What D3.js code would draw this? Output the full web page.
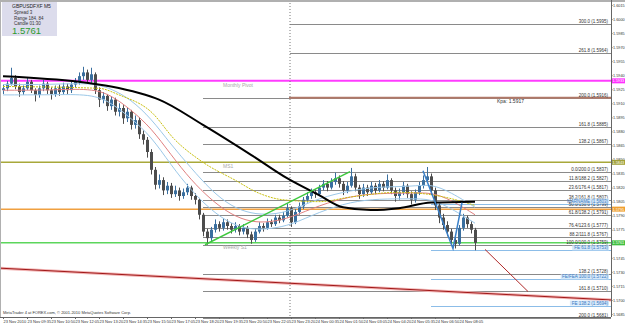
<!DOCTYPE html>
<html>
<head>
<meta charset="utf-8">
<script src="https://cdnjs.cloudflare.com/ajax/libs/d3/7.8.5/d3.min.js"></script>
<style>
  body { margin: 0; background: #fff; }
  text { font-family: "Liberation Sans", Arial, sans-serif; }
</style>
</head>
<body>
<div id="chart"></div>
<script>
// candle data, GBPUSD M5
const firstOpen = 1.5924;
const closes = [
  1.5926, 1.5931, 1.5937, 1.5928, 1.5922, 1.5926, 1.5933, 1.5924, 1.5919, 1.5926,
  1.5931, 1.5924, 1.5920, 1.5926, 1.5922, 1.5928, 1.5924, 1.5930, 1.5933, 1.5939,
  1.5943, 1.5935, 1.5941, 1.5924, 1.5914, 1.5918, 1.5907, 1.5914, 1.5901, 1.5905,
  1.5894, 1.5901, 1.5887, 1.5892, 1.5877, 1.5871, 1.5858, 1.5839, 1.5823, 1.5828,
  1.5817, 1.5822, 1.5813, 1.5817, 1.5811, 1.5815, 1.5820, 1.5811, 1.5807, 1.5791,
  1.5773, 1.5766, 1.5775, 1.5781, 1.5777, 1.5783, 1.5779, 1.5775, 1.5779, 1.5773,
  1.5777, 1.5770, 1.5764, 1.5773, 1.5779, 1.5777, 1.5783, 1.5781, 1.5788, 1.5785,
  1.5790, 1.5798, 1.5783, 1.5794, 1.5800, 1.5807, 1.5811, 1.5815, 1.5813, 1.5820,
  1.5824, 1.5820, 1.5826, 1.5830, 1.5824, 1.5817, 1.5822, 1.5832, 1.5820, 1.5813,
  1.5820, 1.5815, 1.5822, 1.5817, 1.5824, 1.5820, 1.5828, 1.5817, 1.5811, 1.5815,
  1.5822, 1.5813, 1.5807, 1.5815, 1.5822, 1.5828, 1.5832, 1.5817, 1.5801, 1.5788,
  1.5780, 1.5773, 1.5764, 1.5760, 1.5777, 1.5788, 1.5781, 1.5775, 1.5761
];
const highs = [
  1.5930, 1.5934, 1.5948, 1.5940, 1.5931, 1.5929, 1.5937, 1.5935, 1.5926, 1.5929,
  1.5935, 1.5933, 1.5927, 1.5929, 1.5930, 1.5932, 1.5931, 1.5933, 1.5937, 1.5943,
  1.5949, 1.5946, 1.5948, 1.5943, 1.5927, 1.5922, 1.5920, 1.5917, 1.5916, 1.5910,
  1.5908, 1.5905, 1.5903, 1.5897, 1.5895, 1.5881, 1.5874, 1.5861, 1.5842, 1.5834,
  1.5831, 1.5826, 1.5825, 1.5822, 1.5820, 1.5819, 1.5824, 1.5822, 1.5814, 1.5809,
  1.5793, 1.5776, 1.5778, 1.5786, 1.5784, 1.5787, 1.5786, 1.5782, 1.5783, 1.5781,
  1.5781, 1.5779, 1.5773, 1.5776, 1.5783, 1.5782, 1.5787, 1.5786, 1.5791, 1.5791,
  1.5794, 1.5803, 1.5800, 1.5797, 1.5804, 1.5810, 1.5815, 1.5819, 1.5818, 1.5823,
  1.5828, 1.5827, 1.5830, 1.5836, 1.5833, 1.5827, 1.5826, 1.5841, 1.5835, 1.5823,
  1.5824, 1.5823, 1.5826, 1.5825, 1.5828, 1.5827, 1.5834, 1.5830, 1.5820, 1.5819,
  1.5826, 1.5824, 1.5816, 1.5818, 1.5826, 1.5833, 1.5842, 1.5835, 1.5820, 1.5804,
  1.5792, 1.5784, 1.5776, 1.5768, 1.5780, 1.5792, 1.5790, 1.5784, 1.5777
];
const lows = [
  1.5920, 1.5923, 1.5929, 1.5925, 1.5917, 1.5919, 1.5924, 1.5921, 1.5912, 1.5916,
  1.5923, 1.5920, 1.5914, 1.5917, 1.5918, 1.5919, 1.5920, 1.5921, 1.5927, 1.5930,
  1.5935, 1.5931, 1.5932, 1.5920, 1.5906, 1.5910, 1.5902, 1.5903, 1.5897, 1.5896,
  1.5888, 1.5890, 1.5882, 1.5883, 1.5872, 1.5866, 1.5852, 1.5834, 1.5818, 1.5819,
  1.5812, 1.5813, 1.5809, 1.5810, 1.5806, 1.5808, 1.5812, 1.5807, 1.5802, 1.5786,
  1.5768, 1.5759, 1.5763, 1.5772, 1.5773, 1.5774, 1.5775, 1.5771, 1.5772, 1.5769,
  1.5770, 1.5766, 1.5760, 1.5762, 1.5771, 1.5773, 1.5775, 1.5778, 1.5779, 1.5782,
  1.5783, 1.5788, 1.5778, 1.5781, 1.5791, 1.5797, 1.5804, 1.5808, 1.5809, 1.5811,
  1.5817, 1.5816, 1.5818, 1.5823, 1.5820, 1.5812, 1.5814, 1.5820, 1.5816, 1.5808,
  1.5810, 1.5811, 1.5813, 1.5813, 1.5815, 1.5816, 1.5818, 1.5813, 1.5805, 1.5807,
  1.5812, 1.5809, 1.5802, 1.5804, 1.5812, 1.5819, 1.5825, 1.5812, 1.5796, 1.5782,
  1.5775, 1.5768, 1.5759, 1.5755, 1.5758, 1.5774, 1.5777, 1.5771, 1.5753
];

// moving averages (bar index / price)
const slowMaIdx = [0, 19, 27, 34, 39, 50, 62, 71, 79, 85, 92, 99, 107, 118];
const slowMaPrice = [1.5939, 1.5933, 1.5928, 1.5921, 1.5914, 1.5887, 1.5855, 1.5830, 1.5812, 1.5799, 1.5796, 1.5798, 1.5804, 1.5805];
const yellowMaIdx = [0, 24, 29, 37, 43, 50, 58, 64, 70, 79, 87, 99, 109, 118];
const yellowMaPrice = [1.5928, 1.5926, 1.5919, 1.5901, 1.5871, 1.5847, 1.5828, 1.5814, 1.5807, 1.5805, 1.5810, 1.5815, 1.5811, 1.5801];
const bandIdx = [0, 12, 22, 27, 32, 37, 42, 47, 52, 57, 62, 67, 72, 79, 87, 94, 102, 107, 112, 118];
const bandMid = [1.5924, 1.5924, 1.5926, 1.5919, 1.5903, 1.5884, 1.5855, 1.5828, 1.5807, 1.5791, 1.5783, 1.5783, 1.5788, 1.5801, 1.5811, 1.5814, 1.5814, 1.5815, 1.5807, 1.5791];
const bandUpper = [1.5930, 1.5930, 1.5932, 1.5926, 1.5914, 1.5894, 1.5866, 1.5841, 1.5817, 1.5800, 1.5792, 1.5791, 1.5795, 1.5809, 1.5817, 1.5821, 1.5821, 1.5824, 1.5815, 1.5799];
const bandLower = [1.5919, 1.5919, 1.5920, 1.5911, 1.5894, 1.5875, 1.5844, 1.5817, 1.5796, 1.5781, 1.5775, 1.5776, 1.5780, 1.5794, 1.5805, 1.5808, 1.5808, 1.5808, 1.5798, 1.5782];

// full width levels
const levelPrices = [1.5934, 1.5847, 1.5797, 1.5761];
const levelNames = ['Monthly Pivot', 'MS1', '', 'Weekly S1'];
const levelTags = ['1.5933', '1.5843', '1.5795', '1.5761'];

// fibo levels (first bar index each line starts at)
const fibPrices = [1.5995, 1.5964, 1.5916, 1.5885, 1.5867, 1.5837, 1.5827, 1.5817, 1.5807, 1.5799, 1.5791, 1.5777, 1.5767, 1.5759, 1.5728, 1.5710, 1.5681];
const fibStart = [71.75, 71.75, 50, 50, 50, 50, 50, 50, 50, 50, 50, 50, 50, 50, 50, 50, 50];
const fibLabels = ['300.0 (1.5995)', '261.8 (1.5964)', '200.0 (1.5916)', '161.8 (1.5885)', '138.2 (1.5867)',
  '0.0/200.0 (1.5837)', '11.8/188.2 (1.5827)', '23.6/176.4 (1.5817)', '38.2/161.8 (1.5807)', '50.0/150.0 (1.5799)',
  '61.8/138.2 (1.5791)', '76.4/123.6 (1.5777)', '88.2/111.8 (1.5767)', '100.0/100.0 (1.5759)',
  '138.2 (1.5728)', '161.8 (1.5710)', '200.0 (1.5681)'];
const fePrices = [1.5803, 1.5753, 1.5722, 1.5694];
const feLabels = ['MARNAME (1.5803)', 'FE 61.8 (1.5753)', 'FE/FEA 100.0 (1.5722)', 'FE 138.2 (1.5694)'];
const kpaPrice = 1.5916;

// hand drawn lines [bar index, price]
const greenTrend = [[50.5, 1.5759], [86.75, 1.5837]];
const blueZigzag = [[105, 1.5838], [112.5, 1.5755], [114.75, 1.5804]];
const redChannel = [[-1, 1.5734], [152, 1.5700]];
const redShort = [[120.5, 1.5754], [131.25, 1.5709]];
const cursorIdx = 71.75;

// axis labels
const priceTicks = [1.5685, 1.5700, 1.5715, 1.5730, 1.5745, 1.5760, 1.5775, 1.5790, 1.5805, 1.5820, 1.5835, 1.5850,
  1.5865, 1.5880, 1.5895, 1.5910, 1.5925, 1.5940, 1.5955, 1.5970, 1.5985, 1.6000, 1.6015];
const timeIdx = [0, 6, 12, 18, 24, 30, 36, 42, 48, 54, 60, 66, 72, 78, 84, 90, 96, 102, 108, 114];
const timeLabels = ['23 Nov 2010', '23 Nov 09:35', '23 Nov 10:50', '23 Nov 12:05', '23 Nov 13:20', '23 Nov 14:35',
  '23 Nov 15:50', '23 Nov 17:05', '23 Nov 18:20', '23 Nov 19:35', '23 Nov 20:50', '23 Nov 22:05', '23 Nov 23:20',
  '24 Nov 00:35', '24 Nov 01:50', '24 Nov 03:05', '24 Nov 04:20', '24 Nov 05:35', '24 Nov 06:50', '24 Nov 08:05'];

const W = 625, H = 326, plotRight = 611, plotBottom = 317;

const svg = d3.select('#chart')
  .append('svg')
  .attr('width', W)
  .attr('height', H)
  .style('display', 'block');

svg.append('rect').attr('width', W).attr('height', H).attr('fill', '#fff');

// scales
const x = d3.scaleLinear().domain([0, 152]).range([3, plotRight]);
const y = d3.scaleLinear().domain([1.5685, 1.6015]).range([314, 5]);

const plot = svg.append('g');

// fibo lines
const levelColors = ['#ff3cff', '#a8a83a', '#f0a040', '#5cd65c'];
const levelWidths = [2, 1.5, 1.5, 1.5];

plot.selectAll('.fib')
  .data(fibPrices)
  .enter()
  .append('line')
  .attr('x1', (d, i) => x(fibStart[i])).attr('x2', plotRight)
  .attr('y1', d => Math.round(y(d)) + 0.5).attr('y2', d => Math.round(y(d)) + 0.5)
  .attr('stroke', '#8a8a8a').attr('stroke-width', 1);

plot.selectAll('.fe')
  .data(fePrices)
  .enter()
  .append('line')
  .attr('x1', x(107)).attr('x2', plotRight)
  .attr('y1', d => Math.round(y(d)) + 0.5).attr('y2', d => Math.round(y(d)) + 0.5)
  .attr('stroke', '#8cbde8').attr('stroke-width', 1);

// kpa line
plot.append('line')
  .attr('x1', x(71.5)).attr('x2', plotRight)
  .attr('y1', y(kpaPrice)).attr('y2', y(kpaPrice))
  .attr('stroke', '#b07868').attr('stroke-width', 2);

plot.append('text')
  .attr('x', 497).attr('y', y(kpaPrice) + 5)
  .attr('font-size', 5).attr('fill', '#333')
  .text('Kpa:  1.5917');

// full width levels
plot.selectAll('.level')
  .data(levelPrices)
  .enter()
  .append('line')
  .attr('x1', 0).attr('x2', plotRight)
  .attr('y1', d => y(d)).attr('y2', d => y(d))
  .attr('stroke', (d, i) => levelColors[i])
  .attr('stroke-width', (d, i) => levelWidths[i]);

plot.selectAll('.levelName')
  .data(levelPrices)
  .enter()
  .append('text')
  .attr('x', 223).attr('y', d => y(d) + 6)
  .attr('font-size', 5).attr('fill', '#a8a8a8')
  .text((d, i) => levelNames[i]);

// red channel line with soft halo
const line = d3.line().x(d => x(d[0])).y(d => y(d[1]));
plot.append('path').attr('d', line(redChannel)).attr('stroke', '#f2b4b4').attr('stroke-width', 3).attr('fill', 'none');
plot.append('path').attr('d', line(redChannel)).attr('stroke', '#a01818').attr('stroke-width', 1).attr('fill', 'none');
plot.append('path').attr('d', line(redShort)).attr('stroke', '#b02828').attr('stroke-width', 1).attr('fill', 'none');

// cursor line
plot.append('line')
  .attr('x1', x(cursorIdx)).attr('x2', x(cursorIdx))
  .attr('y1', 0).attr('y2', plotBottom)
  .attr('stroke', '#777').attr('stroke-dasharray', '1,2');

// candles
const candles = closes.map((c, i) => ({
  i: i,
  o: i ? closes[i - 1] : firstOpen,
  c: c,
  h: highs[i],
  l: lows[i]
}));
const candleColor = d => d.c >= d.o ? '#3a6f9f' : '#4d4d4d';

plot.selectAll('.wick')
  .data(candles)
  .enter()
  .append('line')
  .attr('x1', d => Math.round(x(d.i)) + 0.5).attr('x2', d => Math.round(x(d.i)) + 0.5)
  .attr('y1', d => y(d.h)).attr('y2', d => y(d.l))
  .attr('stroke', candleColor).attr('stroke-width', 1);

plot.selectAll('.body')
  .data(candles)
  .enter()
  .append('rect')
  .attr('x', d => Math.round(x(d.i)) - 1)
  .attr('width', 3)
  .attr('y', d => y(Math.max(d.o, d.c)))
  .attr('height', d => Math.max(1, Math.abs(y(d.o) - y(d.c))))
  .attr('fill', candleColor);

// moving averages
const maLine = curve => d3.line().x(d => x(d[0])).y(d => y(d[1])).curve(curve);
const zipPts = (idx, vals) => idx.map((d, i) => [d, vals[i]]);

plot.append('path').attr('d', maLine(d3.curveBasis)(zipPts(bandIdx, bandUpper)))
  .attr('fill', 'none').attr('stroke', '#9cc8e8').attr('stroke-width', 1);
plot.append('path').attr('d', maLine(d3.curveBasis)(zipPts(bandIdx, bandLower)))
  .attr('fill', 'none').attr('stroke', '#9cc8e8').attr('stroke-width', 1);
plot.append('path').attr('d', maLine(d3.curveBasis)(zipPts(bandIdx, bandMid)))
  .attr('fill', 'none').attr('stroke', '#e08080').attr('stroke-width', 1);
plot.append('path').attr('d', maLine(d3.curveMonotoneX)(zipPts(yellowMaIdx, yellowMaPrice)))
  .attr('fill', 'none').attr('stroke', '#c8c010').attr('stroke-width', 1).attr('stroke-dasharray', '2,1');
plot.append('path').attr('d', maLine(d3.curveMonotoneX)(zipPts(slowMaIdx, slowMaPrice)))
  .attr('fill', 'none').attr('stroke', '#000').attr('stroke-width', 2);

// trend lines
plot.append('path').attr('d', line(greenTrend)).attr('stroke', '#3cc83c').attr('stroke-width', 1.5).attr('fill', 'none');
plot.append('path').attr('d', line(blueZigzag)).attr('stroke', '#3a80c8').attr('stroke-width', 1.5).attr('fill', 'none');

// fibo labels
plot.selectAll('.fibLabel')
  .data(fibPrices)
  .enter()
  .append('text')
  .attr('x', 608).attr('y', d => y(d) - 1)
  .attr('text-anchor', 'end')
  .attr('font-size', 4.5).attr('fill', '#333')
  .text((d, i) => fibLabels[i]);

const feG = plot.selectAll('.feLabel')
  .data(fePrices)
  .enter()
  .append('g');
feG.append('rect')
  .attr('x', (d, i) => 609 - feLabels[i].length * 2.3).attr('y', d => y(d) - 5)
  .attr('width', (d, i) => feLabels[i].length * 2.3).attr('height', 5)
  .attr('fill', '#d4e8fa');
feG.append('text')
  .attr('x', 608).attr('y', d => y(d) - 1)
  .attr('text-anchor', 'end')
  .attr('font-size', 4.5).attr('fill', '#3a78c0')
  .text((d, i) => feLabels[i]);

// frame
svg.append('line').attr('x1', 0).attr('x2', W).attr('y1', 1).attr('y2', 1).attr('stroke', '#b0b0b0').attr('stroke-width', 2);
svg.append('line').attr('x1', 0.5).attr('x2', 0.5).attr('y1', 0).attr('y2', plotBottom).attr('stroke', '#b0b0b0');
svg.append('line').attr('x1', plotRight + 0.5).attr('x2', plotRight + 0.5).attr('y1', 0).attr('y2', plotBottom).attr('stroke', '#666');
svg.append('line').attr('x1', 0).attr('x2', plotRight).attr('y1', plotBottom + 0.5).attr('y2', plotBottom + 0.5).attr('stroke', '#666');

// price axis
const yAxisG = svg.append('g')
  .attr('transform', 'translate(' + plotRight + ',0)')
  .call(d3.axisRight(y).tickValues(priceTicks).tickSize(1.5).tickPadding(0.5).tickFormat(d3.format('.4f')));
yAxisG.select('.domain').remove();
yAxisG.selectAll('text').attr('font-size', 3.8).attr('fill', '#333');
yAxisG.selectAll('line').attr('stroke', '#666');

// price tags on the axis
const tagColors = ['#ff30ff', '#a0a038', '#f0a030', '#40c040'];
const tagG = svg.selectAll('.tag')
  .data(levelPrices)
  .enter()
  .append('g');
tagG.append('rect')
  .attr('x', plotRight + 1).attr('y', d => y(d) - 2.5)
  .attr('width', 13).attr('height', 5)
  .attr('fill', (d, i) => tagColors[i]);
tagG.append('text')
  .attr('x', plotRight + 1.5).attr('y', d => y(d) + 1.5)
  .attr('font-size', 3.8).attr('fill', '#fff')
  .text((d, i) => levelTags[i]);

// time axis
const xAxisG = svg.append('g')
  .attr('transform', 'translate(0,' + plotBottom + ')')
  .call(d3.axisBottom(x).tickValues(timeIdx).tickSize(2).tickPadding(1)
    .tickFormat((d, i) => timeLabels[i]));
xAxisG.select('.domain').remove();
xAxisG.selectAll('line').attr('stroke', '#666');
xAxisG.selectAll('text')
  .attr('text-anchor', 'start')
  .attr('x', 0)
  .attr('font-size', 4).attr('fill', '#333');

svg.append('text')
  .attr('x', 3).attr('y', 314)
  .attr('font-size', 4).attr('fill', '#333')
  .text('MetaTrader 4 at FOREX.com, \u00a9 2001-2010 MetaQuotes Software Corp.');

// info box
const info = svg.append('g');
info.append('rect').attr('x', 2).attr('y', 2).attr('width', 55).attr('height', 34).attr('fill', '#dcdcec');
info.append('text').attr('x', 12).attr('y', 8).attr('font-size', 5).attr('fill', '#222').text('GBPUSDFXF    M5');
info.append('text').attr('x', 14).attr('y', 14).attr('font-size', 4.5).attr('fill', '#333').text('Spread    3');
info.append('text').attr('x', 14).attr('y', 19.5).attr('font-size', 4.5).attr('fill', '#333').text('Range    184, 84');
info.append('text').attr('x', 14).attr('y', 25).attr('font-size', 4.5).attr('fill', '#333').text('Candle    01:30');
info.append('text').attr('x', 12).attr('y', 34).attr('font-size', 9.5).attr('fill', '#2e9a2e').text('1.5761');
</script>
</body>
</html>
